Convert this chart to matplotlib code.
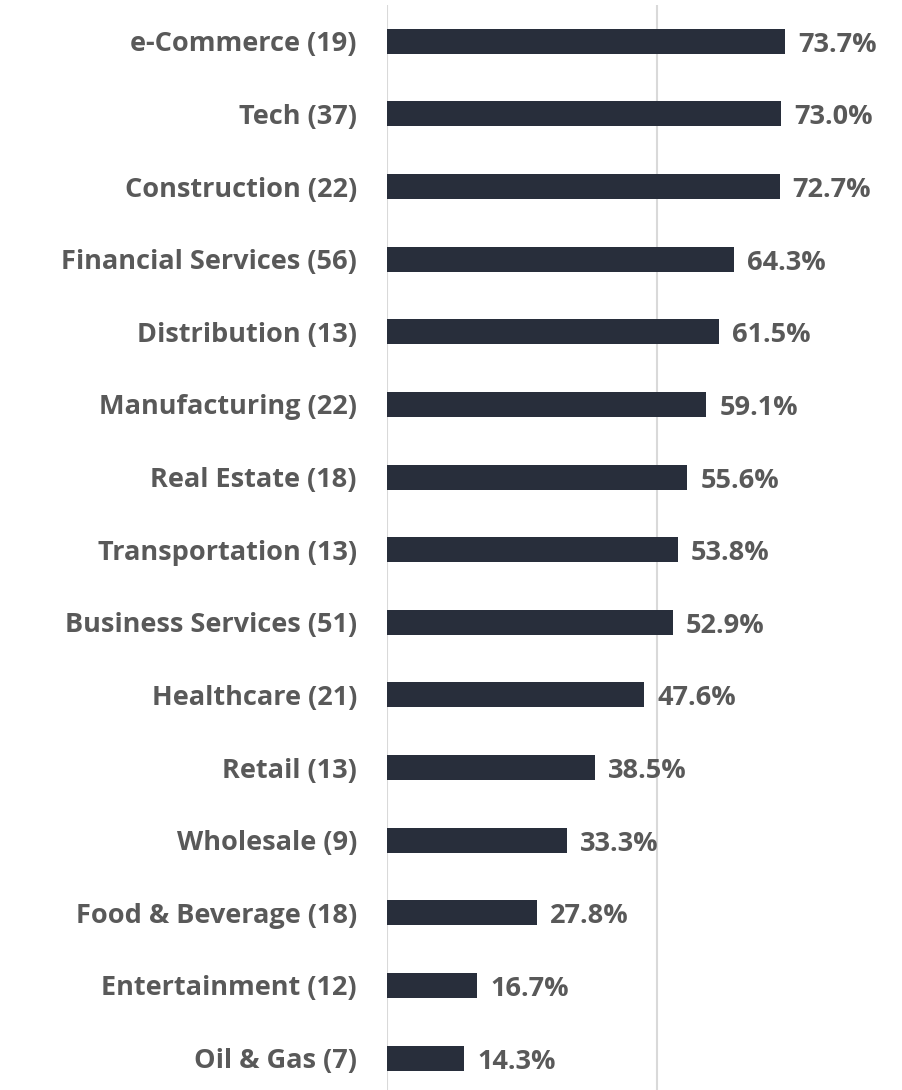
import matplotlib
matplotlib.use("Agg")
import matplotlib.pyplot as plt

categories = ["e-Commerce (19)", "Tech (37)", "Construction (22)", "Financial Services (56)",
              "Distribution (13)", "Manufacturing (22)", "Real Estate (18)", "Transportation (13)",
              "Business Services (51)", "Healthcare (21)", "Retail (13)", "Wholesale (9)",
              "Food & Beverage (18)", "Entertainment (12)", "Oil & Gas (7)"]
values = [73.7, 73.0, 72.7, 64.3, 61.5, 59.1, 55.6, 53.8, 52.9, 47.6, 38.5, 33.3, 27.8, 16.7, 14.3]
value_labels = ["73.7%", "73.0%", "72.7%", "64.3%", "61.5%", "59.1%", "55.6%", "53.8%",
                "52.9%", "47.6%", "38.5%", "33.3%", "27.8%", "16.7%", "14.3%"]

plt.rcParams['font.family'] = ['Open Sans', 'DejaVu Sans']

W, H = 902, 1090
fig = plt.figure(figsize=(W / 100, H / 100), dpi=100)
ax = fig.add_axes([387 / W, 0, 1 - 387 / W, 1 - 5 / H])

bar_color = "#282e3b"
text_color = "#595959"
pos = list(range(len(categories)))
bars = ax.barh(pos, values, height=0.345, color=bar_color, zorder=3)

ax.set_xlim(0, (W - 387) / 5.4)
ax.set_ylim(14.44, -0.5)
ax.set_xticks([0, 50])
ax.xaxis.grid(True, color="#d9d9d9", linewidth=1.5, zorder=0)
ax.tick_params(axis="x", bottom=False, labelbottom=False)
ax.set_yticks(pos)
ax.set_yticklabels(categories, fontsize=19.5, fontweight="bold", color=text_color)
ax.tick_params(axis="y", length=0, pad=21.6)
for s in ax.spines.values():
    s.set_visible(False)

for b, lab in zip(bars, value_labels):
    ax.annotate(lab, (b.get_width(), b.get_y() + b.get_height() / 2),
                xytext=(9.4, -2.5), textcoords="offset points", va="center", ha="left",
                fontsize=19.5, fontweight="bold", color=text_color)

fig.savefig("out.png", dpi=100)
